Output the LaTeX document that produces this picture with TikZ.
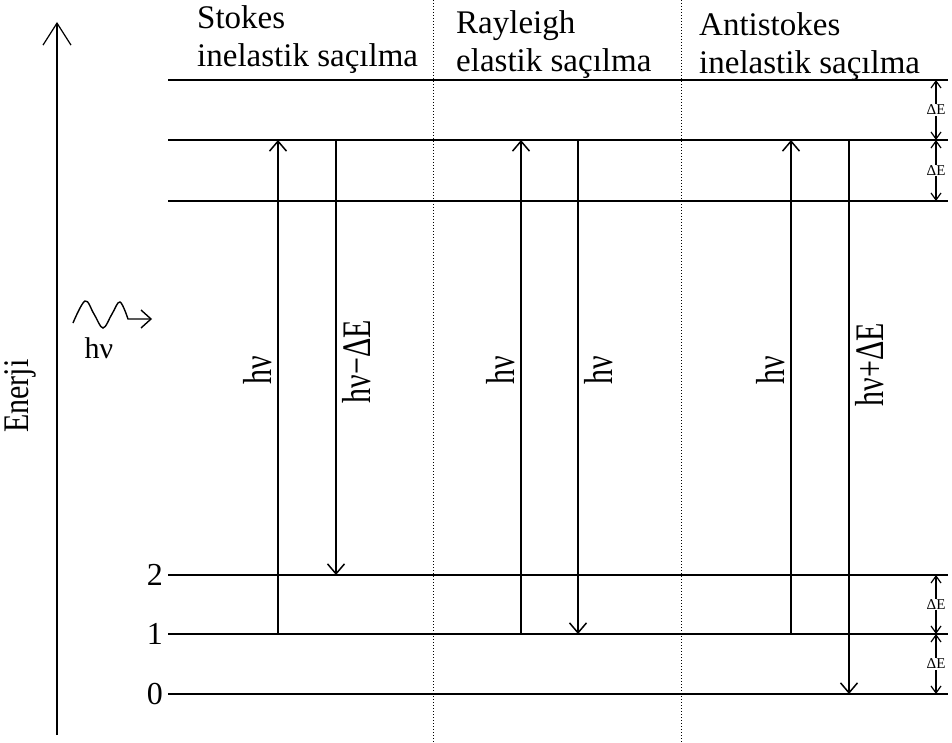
\documentclass[tikz,border=0pt]{standalone}
\usepackage{fontspec}
\setmainfont{Liberation Serif}
\usetikzlibrary{arrows.meta, calc}
\tikzset{
  level/.style={line width=1.6pt},
  arr/.style={-{Straight Barb[length=10pt, width=17pt, line width=1.5pt]}, line width=1.5pt},
  darr/.style={{Straight Barb[length=7pt, width=10pt, line width=1.2pt]}-{Straight Barb[length=7pt, width=10pt, line width=1.2pt]}, line width=1.2pt},
  sep/.style={dotted, line width=1pt},
  head/.style={font=\fontsize{33}{38}\selectfont, align=left, anchor=base west, inner sep=0pt},
  big/.style={font=\fontsize{30}{36}\selectfont},
  num/.style={font=\fontsize{32}{36}\selectfont, anchor=east, inner sep=5pt},
  lblL/.style={big, rotate=90, yscale=1.35, anchor=south, inner sep=4pt},
  lblR/.style={big, rotate=90, yscale=1.35, anchor=north, inner sep=4pt},
  de/.style={font=\fontsize{15}{18}\selectfont, fill=white, inner sep=1pt},
}
\begin{document}
\begin{tikzpicture}[x=1pt, y=-1pt]
  \useasboundingbox (0,0) rectangle (952,743);

  % levels
  \coordinate (V3) at (168,80);
  \coordinate (V2) at (168,140);
  \coordinate (V1) at (168,201);
  \coordinate (L2) at (168,575);
  \coordinate (L1) at (168,634);
  \coordinate (L0) at (168,694);
  \foreach \lv in {V3,V2,V1,L2,L1,L0}
    \draw[level] (\lv) -- ($(\lv)+(780,0)$);

  \node[num] (n2) at (L2) {2};
  \node[num] (n1) at (L1) {1};
  \node[num] (n0) at (L0) {0};

  % separators
  \coordinate (sepA) at (433,0);
  \coordinate (sepB) at (681,0);
  \draw[sep] (sepA) -- ++(0,743);
  \draw[sep] (sepB) -- ++(0,743);

  % headers
  \node[head] (stokes) at (197,67) {Stokes\\inelastik saçılma};
  \node[head] (rayleigh) at (456,72) {Rayleigh\\elastik saçılma};
  \node[head] (anti) at (699,74) {Antistokes\\inelastik saçılma};

  % energy axis
  \coordinate (ax0) at (57,735);
  \coordinate (ax1) at (57,22);
  \draw[-{Straight Barb[length=22pt, width=28pt, line width=1.2pt]}, line width=1.2pt] (ax0) -- (ax1);
  \node[big, rotate=90, yscale=1.2] (enerji) at (20,396) {Enerji};

  % incoming photon
  \draw[line width=1.4pt] plot[smooth, tension=0.6] coordinates
    {(73,323) (85,301) (94,314) (103,328) (112,314) (120,302) (128,319)}
    -- (150,319);
  \draw[line width=1.4pt] (141,310) -- (151,319) -- (141,328);
  \node[big] (photon) at (99,348) {hν};

  % arrow columns
  \coordinate (sU) at (278,0);
  \coordinate (sD) at (336,0);
  \coordinate (rU) at (521,0);
  \coordinate (rD) at (578,0);
  \coordinate (aU) at (791,0);
  \coordinate (aD) at (849,0);
  \coordinate (dE) at (936,0);

  % Stokes
  \draw[arr] (sU |- L1) -- node[lblL, pos=0.534] {hν} (sU |- V2);
  \draw[arr] (sD |- V2) -- node[lblR, pos=0.51] {hν−ΔE} (sD |- L2);
  % Rayleigh
  \draw[arr] (rU |- L1) -- node[lblL, pos=0.534] {hν} (rU |- V2);
  \draw[arr] (rD |- V2) -- node[lblR, pos=0.466] {hν} (rD |- L1);
  % Antistokes
  \draw[arr] (aU |- L1) -- node[lblL, pos=0.534] {hν} (aU |- V2);
  \draw[arr] (aD |- V2) -- node[lblR, pos=0.406] {hν+ΔE} (aD |- L0);

  % spacings
  \draw[darr] (dE |- V3) -- node[de] {ΔE} (dE |- V2);
  \draw[darr] (dE |- V2) -- node[de] {ΔE} (dE |- V1);
  \draw[darr] (dE |- L2) -- node[de] {ΔE} (dE |- L1);
  \draw[darr] (dE |- L1) -- node[de] {ΔE} (dE |- L0);
\end{tikzpicture}
\end{document}
